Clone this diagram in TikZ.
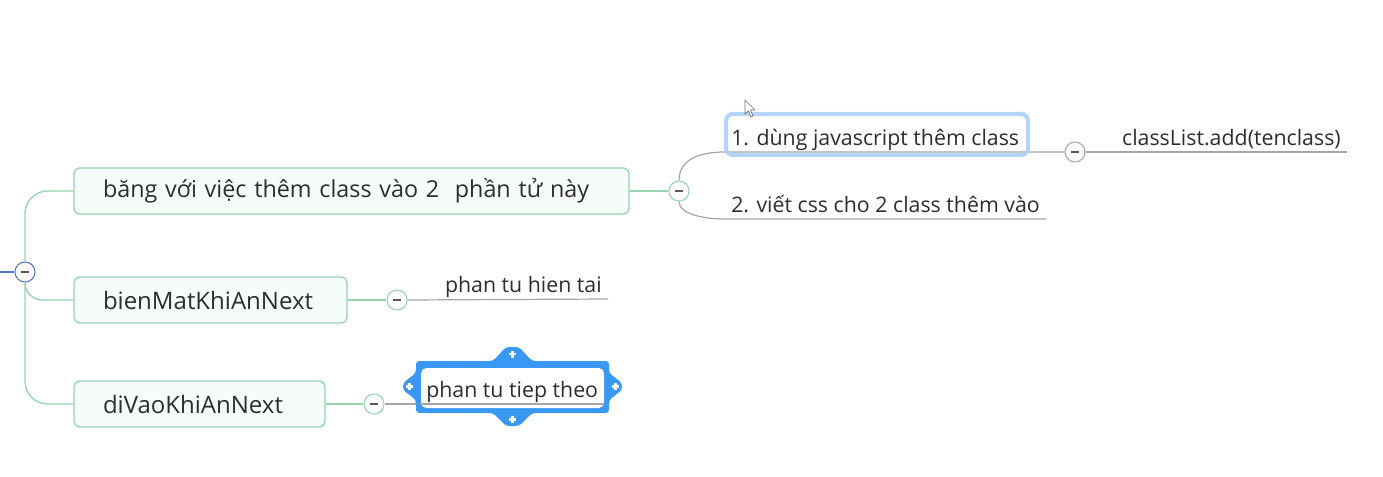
\documentclass[tikz,border=0pt]{standalone}
\usepackage{fontspec}
\setmainfont{Open Sans}
\usetikzlibrary{positioning,calc}
\definecolor{tline}{RGB}{150,212,178}
\definecolor{tfill}{RGB}{246,252,248}
\definecolor{gline}{RGB}{165,165,165}
\definecolor{rootblue}{RGB}{80,120,195}
\definecolor{selblue}{RGB}{58,152,245}
\definecolor{sellight}{RGB}{178,212,248}
\definecolor{txt}{RGB}{45,45,45}
\pgfdeclarelayer{sel}
\pgfdeclarelayer{front}
\pgfsetlayers{main,sel,front}

\begin{document}
\begin{tikzpicture}[x=0.75pt, y=-0.75pt, font=\fontsize{16}{19}\selectfont, text=txt,
  topic/.style={rectangle, rounded corners=4pt, draw=tline, line width=1pt, fill=tfill, minimum height=34.5pt,
    inner xsep=21.75pt, align=left, font=\fontsize{18}{21}\selectfont},
  leaf/.style={inner xsep=4.5pt, inner ysep=1pt, text height=12pt, text depth=3.5pt},
  fold/.style={circle, draw=#1, fill=white, line width=0.8pt, minimum size=15pt, inner sep=0pt,
    path picture={\draw[line width=1.3pt, black!65] ($(path picture bounding box.center)+(-4,0)$) -- ++(8,0);}},
  glink/.style={draw=tline, line width=1pt},
  link/.style={draw=gline, line width=0.9pt}]
\useasboundingbox (0,0) rectangle (1383,477);
\fill[white] (0,0) rectangle (1383,477);

\node[fold=rootblue] (r) at (25,272) {};
\coordinate (in) at (0,272);
\node[topic, text width=372.75pt, font=\fontsize{17.5}{21}\selectfont] (b1) at (351.5,191) {\mbox{băng với việc thêm class vào 2\ \ phần tử này}};
\node[topic, text width=161.25pt] (b2) at (210.5,300) {bienMatKhiAnNext};
\node[topic, text width=144.75pt] (b3) at (199.5,404) {diVaoKhiAnNext};

\node[fold=tline] (c1) at (679,191) {};
\node[fold=gline] (c2) at (1075,152) {};
\node[fold=tline] (c3) at (397,300) {};
\node[fold=tline] (c4) at (374,404) {};

\node[leaf, anchor=south west] (l1) at (725,152) {1. dùng javascript thêm class};
\node[leaf, anchor=south east] (l2) at (1347,152) {classList.add(tenclass)};
\node[leaf, anchor=south west] (l3) at (725,219) {2. viết css cho 2 class thêm vào};
\node[leaf, anchor=south east] (l4) at (608,299) {phan tu hien tai};

\draw[rootblue, line width=1pt] (in) -- (r.west);
\draw[glink, rounded corners=17pt] (r.north) |- (b1.west); \draw[glink, rounded corners=13pt] (r.south) |- (b2.west); \draw[glink, rounded corners=17pt] (r.south) |- (b3.west);
\draw[glink] (b1.east) -- (c1.west); \draw[glink] (b2.east) -- (c3.west); \draw[glink] (b3.east) -- (c4.west);
\draw[link] (c1.north) .. controls +(0,-22) and +(-24,0) .. (l1.south west) -- (c2.west); \draw[link] (c2.east) -- (l2.south east);
\draw[link] (c1.south) .. controls +(0,13) and +(-20,0) .. (l3.south west) -- (l3.south east);
\draw[link] (c3.east) -- (l4.south east);

\begin{pgfonlayer}{sel}
\draw[sellight, line width=3pt, rounded corners=5] (726,114) rectangle (1028,155);
\fill[selblue, rounded corners=2.5] (416,361) -- (493,361) -- (506,347) -- (519,347) -- (532,361) -- (609,361) -- (609,373) -- (622,383) -- (622,390) -- (609,400) -- (609,413) -- (532,413) -- (519,426) -- (506,426) -- (493,413) -- (416,413) -- (416,400) -- (403,390) -- (403,383) -- (416,373) -- cycle;
\fill[white, rounded corners=4] (421,368) rectangle (604,408);
\foreach \p in {(512.5,354),(512.5,419.5),(409.5,386.5),(615.5,386.5)} \draw[white, line width=1.8pt] \p ++(-3.5,0) -- ++(7,0) \p ++(0,-3.5) -- ++(0,7);
\end{pgfonlayer}

\begin{pgfonlayer}{front}
\node[leaf, anchor=south west] (l5) at (420,404) {phan tu tiep theo};
\draw[link] (l5.south west) -- (l5.south east);
\end{pgfonlayer}
\draw[link] (c4.east) -- (l5.south west);

\begin{pgfonlayer}{front}
\draw[black!55, fill=white, line width=0.5pt, line join=round] (745,100) -- (745,114) -- (748.5,111) -- (751,117) -- (753,116) -- (750.5,110) -- (755,110) -- cycle;
\end{pgfonlayer}
\end{tikzpicture}
\end{document}
